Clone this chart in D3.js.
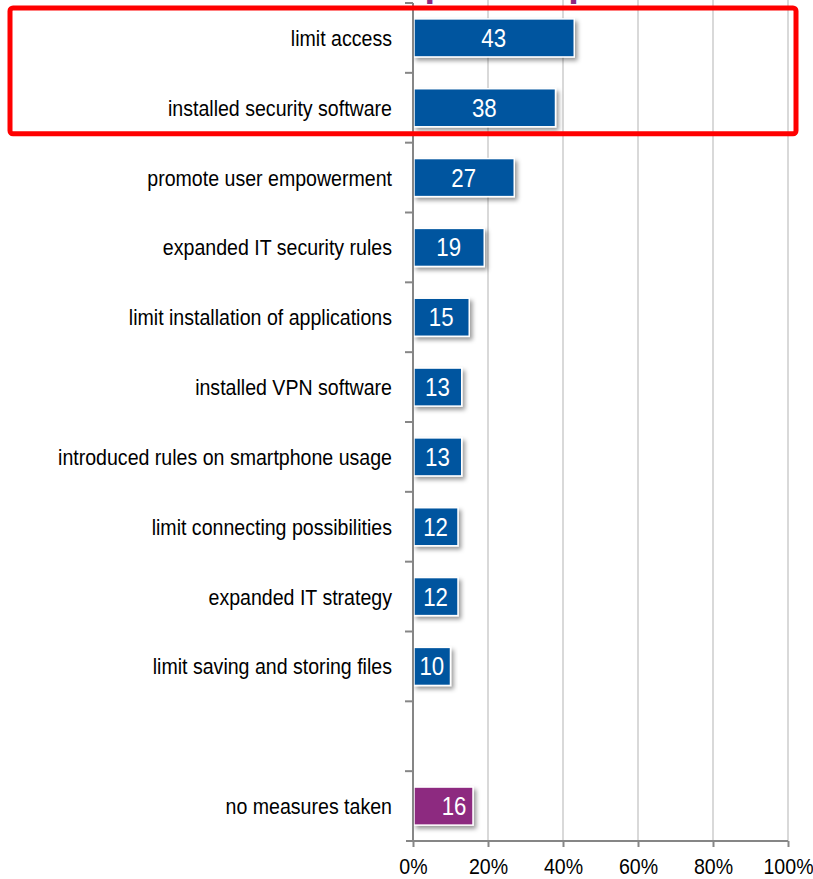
<!DOCTYPE html>
<html>
<head>
<meta charset="utf-8">
<script src="https://cdn.jsdelivr.net/npm/d3@7/dist/d3.min.js"></script>
<style>
  html, body { margin: 0; padding: 0; background: #fff; }
  svg { display: block; }
  text { font-family: "Liberation Sans", Arial, sans-serif; }
</style>
</head>
<body>
<svg id="chart" width="813" height="879"></svg>
<script>
// Measures taken, share of companies in percent
const categories = [
  "limit access",
  "installed security software",
  "promote user empowerment",
  "expanded IT security rules",
  "limit installation of applications",
  "installed VPN software",
  "introduced rules on smartphone usage",
  "limit connecting possibilities",
  "expanded IT strategy",
  "limit saving and storing files",
  "",
  "no measures taken"
];
const values = [43, 38, 27, 19, 15, 13, 13, 12, 12, 10, null, 16];
const groups = ["measure", "measure", "measure", "measure", "measure", "measure",
                "measure", "measure", "measure", "measure", "gap", "none"];
const xTicks = [0, 20, 40, 60, 80, 100];
const highlighted = ["limit access", "installed security software"];

const svg = d3.select("#chart");
const colors = { measure: "#02559f", none: "#8d2a80" };
const narrow = 0.89; // horizontal squeeze for a condensed look

const x = d3.scaleLinear().domain([0, 100]).range([413, 788]);
const y = d3.scaleBand().domain(categories.map((c, i) => i)).range([3, 841]).paddingInner(0.455).paddingOuter(0.2275);

const defs = svg.append("defs");
const shadow = defs.append("filter").attr("id", "shadow")
  .attr("x", "-10%").attr("y", "-20%").attr("width", "130%").attr("height", "160%");
shadow.append("feDropShadow").attr("dx", 2.5).attr("dy", 3).attr("stdDeviation", 2)
  .attr("flood-color", "#000").attr("flood-opacity", 0.4);

// Title (runs off the top edge)
svg.append("text")
  .attr("x", 381).attr("y", -4)
  .attr("fill", "#8d2a80")
  .attr("font-size", 38).attr("font-weight", "bold")
  .text("Top-10 steps");

// Vertical gridlines
svg.append("g").selectAll("line")
  .data(xTicks.slice(1))
  .join("line")
  .attr("x1", d => x(d)).attr("x2", d => x(d))
  .attr("y1", 0).attr("y2", 841)
  .attr("stroke", "#d9d9d9").attr("stroke-width", 2);

// Bars
const rows = categories.map((c, i) => ({ c, i, v: values[i], g: groups[i] })).filter(d => d.v !== null);
svg.append("g").selectAll("rect")
  .data(rows)
  .join("rect")
  .attr("x", x(0) + 1)
  .attr("y", d => y(d.i))
  .attr("width", d => x(d.v) - x(0) - 1)
  .attr("height", y.bandwidth())
  .attr("fill", d => colors[d.g])
  .attr("stroke", "#fff").attr("stroke-width", 1.5)
  .attr("filter", "url(#shadow)");

// Value labels inside bars
svg.append("g").selectAll("text")
  .data(rows)
  .join("text")
  .attr("transform", d => {
    const cx = d.g === "none" ? x(d.v) - 19 : (x(0) + x(d.v)) / 2;
    return `translate(${cx},${y(d.i) + y.bandwidth() / 2}) scale(${narrow},1)`;
  })
  .attr("dy", "0.36em")
  .attr("text-anchor", "middle")
  .attr("fill", "#fff")
  .attr("font-size", 25)
  .text(d => d.v);

// Category axis
const yAxis = svg.append("g");
yAxis.append("line")
  .attr("x1", x(0)).attr("x2", x(0)).attr("y1", 3).attr("y2", 841)
  .attr("stroke", "#868686").attr("stroke-width", 2);
const bounds = d3.range(categories.length).map(i => y(i) - y.step() * y.paddingOuter());
yAxis.selectAll("line.tick")
  .data(bounds)
  .join("line").attr("class", "tick")
  .attr("x1", x(0) - 8).attr("x2", x(0))
  .attr("y1", d => d).attr("y2", d => d)
  .attr("stroke", "#868686").attr("stroke-width", 2);
yAxis.selectAll("text")
  .data(categories.map((c, i) => ({ c, i })))
  .join("text")
  .attr("transform", d => `translate(392,${y(d.i) + y.bandwidth() / 2}) scale(${narrow},1)`)
  .attr("dy", "0.36em")
  .attr("text-anchor", "end")
  .attr("fill", "#000")
  .attr("font-size", 22)
  .text(d => d.c);

// Percent axis
const xAxis = svg.append("g").attr("transform", "translate(0,841)")
  .call(d3.axisBottom(x).tickValues(xTicks).tickFormat(d => d + "%").tickSize(6).tickSizeOuter(0));
xAxis.select(".domain").remove();
xAxis.append("line").attr("x1", x(0) - 7).attr("x2", x(100)).attr("stroke", "#868686").attr("stroke-width", 2);
xAxis.selectAll(".tick line").attr("stroke", "#868686").attr("stroke-width", 2);
xAxis.selectAll(".tick text")
  .attr("fill", "#000").attr("font-size", 22).attr("dy", 0).attr("y", 33)
  .attr("transform", `scale(${narrow},1)`)
  .style("font-family", "'Liberation Sans', Arial, sans-serif");

// Highlight frame around the leading measures
const hi = highlighted.map(c => categories.indexOf(c));
const frameTop = y(hi[0]) - y.step() * y.paddingOuter() + 5;
const frameBottom = y(hi[hi.length - 1]) + y.bandwidth() + 7;
svg.append("rect")
  .attr("x", 10).attr("y", frameTop)
  .attr("width", 786).attr("height", frameBottom - frameTop)
  .attr("rx", 3)
  .attr("fill", "none").attr("stroke", "#ff0000").attr("stroke-width", 5);
</script>
</body>
</html>
